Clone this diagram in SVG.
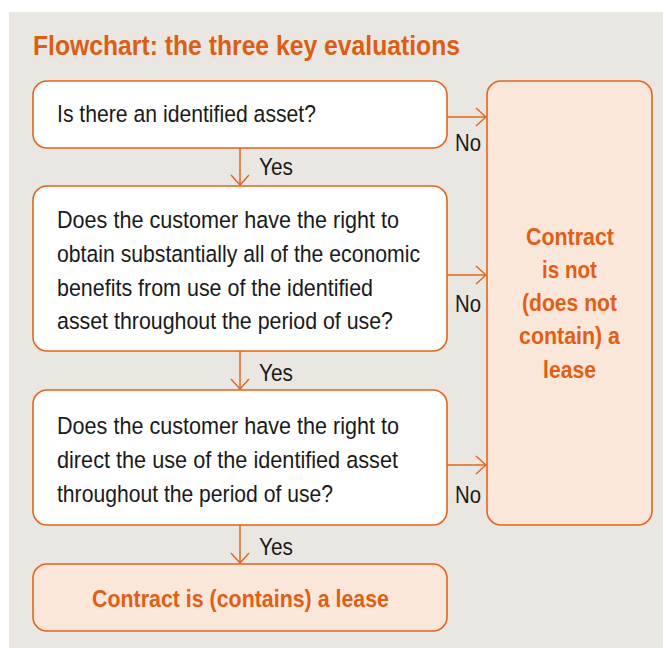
<svg xmlns="http://www.w3.org/2000/svg" width="663" height="648" viewBox="0 0 663 648">
<style>
.bg{fill:#EAE6E1}
.box{fill:#FFFFFF;stroke:#E2661F;stroke-width:1.6}
.res{fill:#FBE6DA;stroke:#E2661F;stroke-width:1.6}
.t{font-family:"Liberation Sans",Arial,sans-serif;font-size:24.5px;fill:#1A1A1A}
.b{font-family:"Liberation Sans",Arial,sans-serif;font-size:24.5px;font-weight:bold;fill:#DF5F14;text-anchor:middle}
.title{font-family:"Liberation Sans",Arial,sans-serif;font-size:27px;font-weight:bold;fill:#DB5E14}
.c{fill:none;stroke:#E2661F;stroke-width:1.5}
</style>
<defs>
<marker id="ah" viewBox="0 0 12 20" refX="11" refY="10" markerWidth="12" markerHeight="20" markerUnits="userSpaceOnUse" orient="auto">
<path d="M1,1 L11,10 L1,19" fill="none" stroke="#E2661F" stroke-width="1.5"/>
</marker>
</defs>
<rect class="bg" x="9" y="12" width="654" height="636"/>
<text class="title" x="33" y="55" textLength="427" lengthAdjust="spacingAndGlyphs">Flowchart: the three key evaluations</text>

<g id="connectors">
<line class="c" x1="240" y1="148" x2="240" y2="185" marker-end="url(#ah)"/>
<line class="c" x1="240" y1="351" x2="240" y2="389" marker-end="url(#ah)"/>
<line class="c" x1="240" y1="525" x2="240" y2="563" marker-end="url(#ah)"/>
<line class="c" x1="447" y1="117" x2="486" y2="117" marker-end="url(#ah)"/>
<line class="c" x1="447" y1="275" x2="486" y2="275" marker-end="url(#ah)"/>
<line class="c" x1="447" y1="465" x2="486" y2="465" marker-end="url(#ah)"/>
<text class="t" x="259" y="175" textLength="34" lengthAdjust="spacingAndGlyphs">Yes</text>
<text class="t" x="259" y="381" textLength="34" lengthAdjust="spacingAndGlyphs">Yes</text>
<text class="t" x="259" y="555" textLength="34" lengthAdjust="spacingAndGlyphs">Yes</text>
<text class="t" x="455" y="151" textLength="26" lengthAdjust="spacingAndGlyphs">No</text>
<text class="t" x="455" y="312" textLength="26" lengthAdjust="spacingAndGlyphs">No</text>
<text class="t" x="455" y="503" textLength="26" lengthAdjust="spacingAndGlyphs">No</text>
</g>

<g id="q1">
<rect class="box" x="33" y="81" width="414" height="67" rx="14"/>
<text class="t" x="57" y="122" textLength="259" lengthAdjust="spacingAndGlyphs">Is there an identified asset?</text>
</g>

<g id="q2">
<rect class="box" x="33" y="186" width="414" height="165" rx="14"/>
<text class="t" x="57" y="228" textLength="342" lengthAdjust="spacingAndGlyphs">Does the customer have the right to</text>
<text class="t" x="57" y="262" textLength="363" lengthAdjust="spacingAndGlyphs">obtain substantially all of the economic</text>
<text class="t" x="57" y="296" textLength="316" lengthAdjust="spacingAndGlyphs">benefits from use of the identified</text>
<text class="t" x="57" y="329" textLength="336" lengthAdjust="spacingAndGlyphs">asset throughout the period of use?</text>
</g>

<g id="q3">
<rect class="box" x="33" y="390" width="414" height="135" rx="14"/>
<text class="t" x="57" y="434" textLength="342" lengthAdjust="spacingAndGlyphs">Does the customer have the right to</text>
<text class="t" x="57" y="468" textLength="341" lengthAdjust="spacingAndGlyphs">direct the use of the identified asset</text>
<text class="t" x="57" y="502" textLength="276" lengthAdjust="spacingAndGlyphs">throughout the period of use?</text>
</g>

<g id="yes-result">
<rect class="res" x="33" y="564" width="414" height="67" rx="14"/>
<text class="b" x="240.5" y="607" textLength="297" lengthAdjust="spacingAndGlyphs">Contract is (contains) a lease</text>
</g>

<g id="no-result">
<rect class="res" x="487" y="81" width="165" height="444" rx="14"/>
<text class="b" x="570" y="245" textLength="88" lengthAdjust="spacingAndGlyphs">Contract</text>
<text class="b" x="569.5" y="278" textLength="55" lengthAdjust="spacingAndGlyphs">is not</text>
<text class="b" x="569.5" y="311" textLength="95" lengthAdjust="spacingAndGlyphs">(does not</text>
<text class="b" x="569.5" y="344" textLength="101" lengthAdjust="spacingAndGlyphs">contain) a</text>
<text class="b" x="569.5" y="378" textLength="53" lengthAdjust="spacingAndGlyphs">lease</text>
</g>
</svg>
